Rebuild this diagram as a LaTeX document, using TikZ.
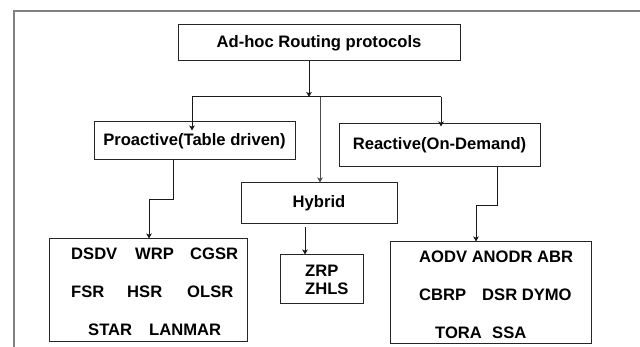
\documentclass[tikz,border=0pt]{standalone}
\usepackage{fontspec}
\setmainfont{Liberation Sans}
\usetikzlibrary{arrows.meta,calc}
\tikzset{
  box/.style={draw=black!85, line width=1pt, inner sep=0pt, font=\bfseries\fontsize{16.6}{19}\selectfont},
  word/.style={inner sep=0pt, anchor=base west, font=\bfseries\fontsize{16.6}{19}\selectfont},
  link/.style={draw=black!90, line width=1pt},
  arr/.style={link, -{Stealth[length=5pt,width=5.5pt,inset=1.2pt]}},
}
\begin{document}
\begin{tikzpicture}[x=1pt,y=-1pt]
\useasboundingbox (0,0) rectangle (640,347);
% frame
\draw[gray, line width=1.4pt] (14,347) -- (14,11) -- (640,11);

% boxes
\node[box, minimum width=282pt, minimum height=36pt] (top) at (319,43) {Ad-hoc Routing protocols};
\node[box, minimum width=201pt, minimum height=38pt] (pro) at (194.5,141) {Proactive(Table driven)};
\node[box, minimum width=156pt, minimum height=41pt] (hyb) at (319,203.5) {Hybrid};
\node[box, minimum width=201pt, minimum height=43pt] (rea) at (439.5,145.5) {Reactive(On-Demand)};
\node[box, minimum width=198pt, minimum height=103pt] (plist) at (148,290.5) {};
\node[box, minimum width=83pt, minimum height=49pt] (zlist) at (321.5,279.5) {};
\node[box, minimum width=201pt, minimum height=102pt] (rlist) at (490.5,293) {};

% proactive protocols
\node[word] (dsdv) at (71,260) {DSDV};
\node[word] (wrp) at (135,260) {WRP};
\node[word] (cgsr) at (190,260) {CGSR};
\node[word] (fsr) at (71,298) {FSR};
\node[word] (hsr) at (127,298) {HSR};
\node[word] (olsr) at (187,298) {OLSR};
\node[word] (star) at (88,336) {STAR};
\node[word] (lanmar) at (149,336) {LANMAR};

% hybrid protocols
\node[word] (zrp) at (305,277) {ZRP};
\node[word] (zhls) at (305,295) {ZHLS};

% reactive protocols
\node[word] (r1) at (419,263) {AODV ANODR ABR};
\node[word] (cbrp) at (419,301) {CBRP};
\node[word] (dsr) at (482,301) {DSR DYMO};
\node[word] (tora) at (435,338) {TORA};
\node[word] (ssa) at (492,338) {SSA};

% connectors
\coordinate (j) at (309,97);
\coordinate (jl) at (192,97);
\coordinate (jm) at (320,97);
\coordinate (jr) at (441,97);
\draw[arr] (top.south -| j) -- (j);
\draw[link] (jl) -- (jr);
\draw[arr, shorten >=-9pt] (jl) -- (jl |- pro.north);
\draw[arr, draw=black!70] (jm) -- (jm |- hyb.north);
\draw[arr, shorten >=-3pt] (jr) -- (jr |- rea.north);

\coordinate (pb) at (173.5,200);
\coordinate (pc) at (149,200);
\draw[arr] (pro.south -| pb) -- (pb) -- (pc) -- (pc |- plist.north);

\coordinate (hz) at (305,227);
\draw[arr, shorten <=3pt] (hyb.south -| hz) -- (hz |- zlist.north);

\coordinate (rb) at (497,206);
\coordinate (rc) at (476,206);
\draw[arr] (rea.south -| rb) -- (rb) -- (rc) -- (rc |- rlist.north);
\end{tikzpicture}
\end{document}
